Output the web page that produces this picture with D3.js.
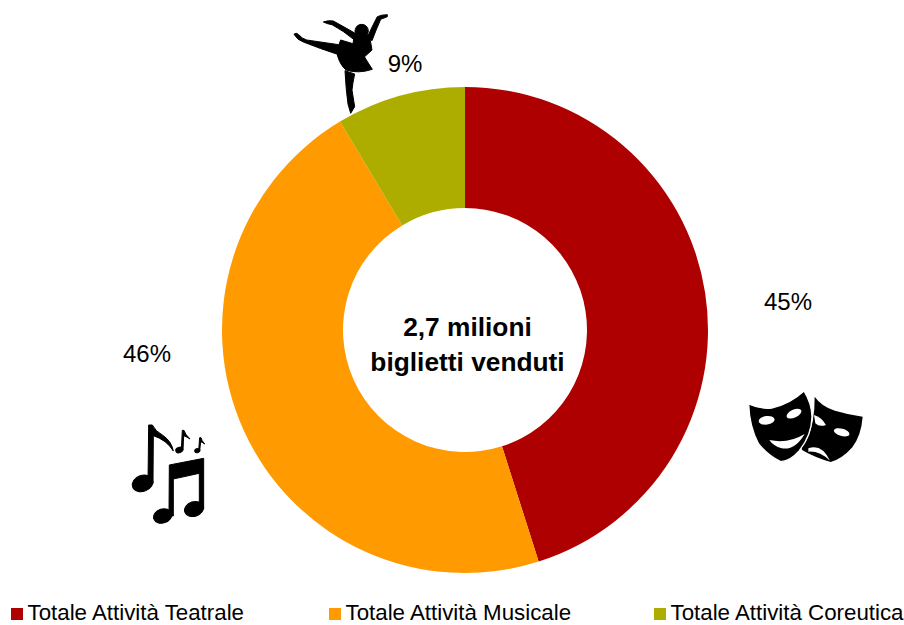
<!DOCTYPE html>
<html>
<head>
<meta charset="utf-8">
<script src="https://cdn.jsdelivr.net/npm/d3@7"></script>
<style>
	html, body { margin: 0; padding: 0; background: #fff; overflow: hidden; }
	text { font-family: "Liberation Sans", Arial, sans-serif; fill: #000; }
</style>
</head>
<body>
<script>
// Dati
const categories = ["Totale Attività Teatrale", "Totale Attività Musicale", "Totale Attività Coreutica"];
const values = [45.1, 46.3, 8.6];
const labels = ["45%", "46%", "9%"];
const colors = ["#ae0000", "#ff9a00", "#adad00"];
const centerLines = ["2,7 milioni", "biglietti venduti"];

const width = 904, height = 625;
const cx = 465, cy = 330, outerR = 243, innerR = 122;

const svg = d3.select("body").append("svg")
	.attr("width", width)
	.attr("height", height);

// Ciambella
const pie = d3.pie().sort(null).value(d => d);
const arc = d3.arc().innerRadius(innerR).outerRadius(outerR);

svg.append("g")
	.attr("transform", `translate(${cx},${cy})`)
	.selectAll("path")
	.data(pie(values))
	.join("path")
	.attr("d", arc)
	.attr("fill", (d, i) => colors[i]);

// Etichette percentuali
const labelPos = [[788, 310], [147, 362], [405, 72]];
svg.append("g")
	.selectAll("text")
	.data(labels)
	.join("text")
	.attr("x", (d, i) => labelPos[i][0])
	.attr("y", (d, i) => labelPos[i][1])
	.attr("text-anchor", "middle")
	.attr("font-size", 24)
	.text(d => d);

// Testo centrale
svg.append("g")
	.selectAll("text")
	.data(centerLines)
	.join("text")
	.attr("x", 467.5)
	.attr("y", (d, i) => 336 + i * 35)
	.attr("text-anchor", "middle")
	.attr("font-size", 26.3)
	.attr("font-weight", "bold")
	.text(d => d);

// Legenda
const legendX = [11, 329, 654];
const legend = svg.append("g")
	.selectAll("g")
	.data(categories)
	.join("g")
	.attr("transform", (d, i) => `translate(${legendX[i]},608)`);

legend.append("rect")
	.attr("width", 12)
	.attr("height", 12)
	.attr("fill", (d, i) => colors[i]);

legend.append("text")
	.attr("x", 16.5)
	.attr("y", 12)
	.attr("font-size", 22.3)
	.text(d => d);

// Ballerina (coordinate dello zoom 3x)
const dancer = svg.append("g")
	.attr("transform", "translate(280,0) scale(0.3333)")
	.attr("stroke", "#000")
	.attr("stroke-width", 3)
	.attr("stroke-linejoin", "round");
dancer.append("path")
	.attr("d", "M42,103 Q48,96 56,104 Q66,116 80,120 L176,134 L176,164 Q120,146 70,126 Q52,120 42,103 Z");
dancer.append("path")
	.attr("d", "M130,66 Q145,60 160,63 Q200,85 236,106 L226,122 Q190,92 156,74 Q142,72 130,66 Z");
dancer.append("path")
	.attr("d", "M322,44 L322,50 L302,58 Q288,90 276,122 L262,112 Q276,80 292,50 Q305,44 322,44 Z");
dancer.append("circle").attr("cx", 245).attr("cy", 93).attr("r", 20);
dancer.append("path")
	.attr("d", "M222,110 L268,104 L276,150 L252,172 L215,160 Z");
dancer.append("path")
	.attr("d", "M182,120 Q172,140 172,165 Q180,195 198,210 Q235,222 277,208 Q262,185 250,165 L232,135 Z");
dancer.append("path")
	.attr("d", "M195,212 L224,222 Q218,250 216,270 Q220,295 224,320 L212,340 L204,312 Q198,270 195,212 Z");

// Note musicali
const notes = svg.append("g")
	.attr("transform", "translate(120,415) scale(0.3333)")
	.attr("stroke", "#000")
	.attr("stroke-width", 3);
notes.append("ellipse").attr("cx", 68).attr("cy", 205).attr("rx", 32).attr("ry", 24)
	.attr("transform", "rotate(-20 68 205)");
notes.append("path")
	.attr("d", "M84,205 L86,30 L97,30 Q105,48 130,62 Q155,80 160,108 Q140,75 100,62 L99,205 Z");
notes.append("path")
	.attr("d", "M148,150 L251,130 L251,282 L238,282 L238,175 L160,192 L160,303 L147,303 Z");
notes.append("ellipse").attr("cx", 128).attr("cy", 303).attr("rx", 28).attr("ry", 21)
	.attr("transform", "rotate(-18 128 303)");
notes.append("ellipse").attr("cx", 222).attr("cy", 282).attr("rx", 29).attr("ry", 22)
	.attr("transform", "rotate(-18 222 282)");
notes.append("ellipse").attr("cx", 178).attr("cy", 105).attr("rx", 11).attr("ry", 8)
	.attr("transform", "rotate(-20 178 105)");
notes.append("path").attr("d", "M184,105 L187,46 L192,46 Q195,58 210,72 Q198,64 191,62 L189,105 Z");
notes.append("ellipse").attr("cx", 232).attr("cy", 107).attr("rx", 8).attr("ry", 6)
	.attr("transform", "rotate(-20 232 107)");
notes.append("path").attr("d", "M236,107 L239,68 L243,68 Q245,77 254,87 Q246,81 242,80 L239,107 Z");

// Maschere
const masks = svg.append("g")
	.attr("transform", "translate(740,380) scale(0.3333)");
masks.append("path")
	.attr("d", "M224,50 Q245,80 285,92 Q325,104 368,110 Q364,165 337,202 Q305,238 272,246 Q225,232 190,212 Q175,205 200,180 Q225,130 224,50 Z");
masks.append("ellipse").attr("cx", 305).attr("cy", 157).attr("rx", 24).attr("ry", 11)
	.attr("transform", "rotate(15 305 157)").attr("fill", "#fff");
masks.append("path").attr("d", "M222,105 Q245,112 258,135 Q238,142 226,130 Z").attr("fill", "#fff");
masks.append("path").attr("d", "M205,205 Q245,190 270,242 Q238,212 205,215 Z").attr("fill", "#fff");
masks.append("path")
	.attr("d", "M26,72 Q60,88 95,84 Q150,72 192,33 Q215,70 216,110 Q215,165 178,212 Q150,244 122,245 Q85,228 56,192 Q28,140 26,72 Z")
	.attr("stroke", "#fff")
	.attr("stroke-width", 4);
masks.append("ellipse").attr("cx", 80).attr("cy", 121).attr("rx", 24).attr("ry", 13)
	.attr("transform", "rotate(-8 80 121)").attr("fill", "#fff");
masks.append("ellipse").attr("cx", 162).attr("cy", 101).attr("rx", 24).attr("ry", 12)
	.attr("transform", "rotate(-25 162 101)").attr("fill", "#fff");
masks.append("path").attr("d", "M88,180 Q145,192 194,162 Q165,212 125,205 Q100,198 88,180 Z").attr("fill", "#fff");
</script>
</body>
</html>
